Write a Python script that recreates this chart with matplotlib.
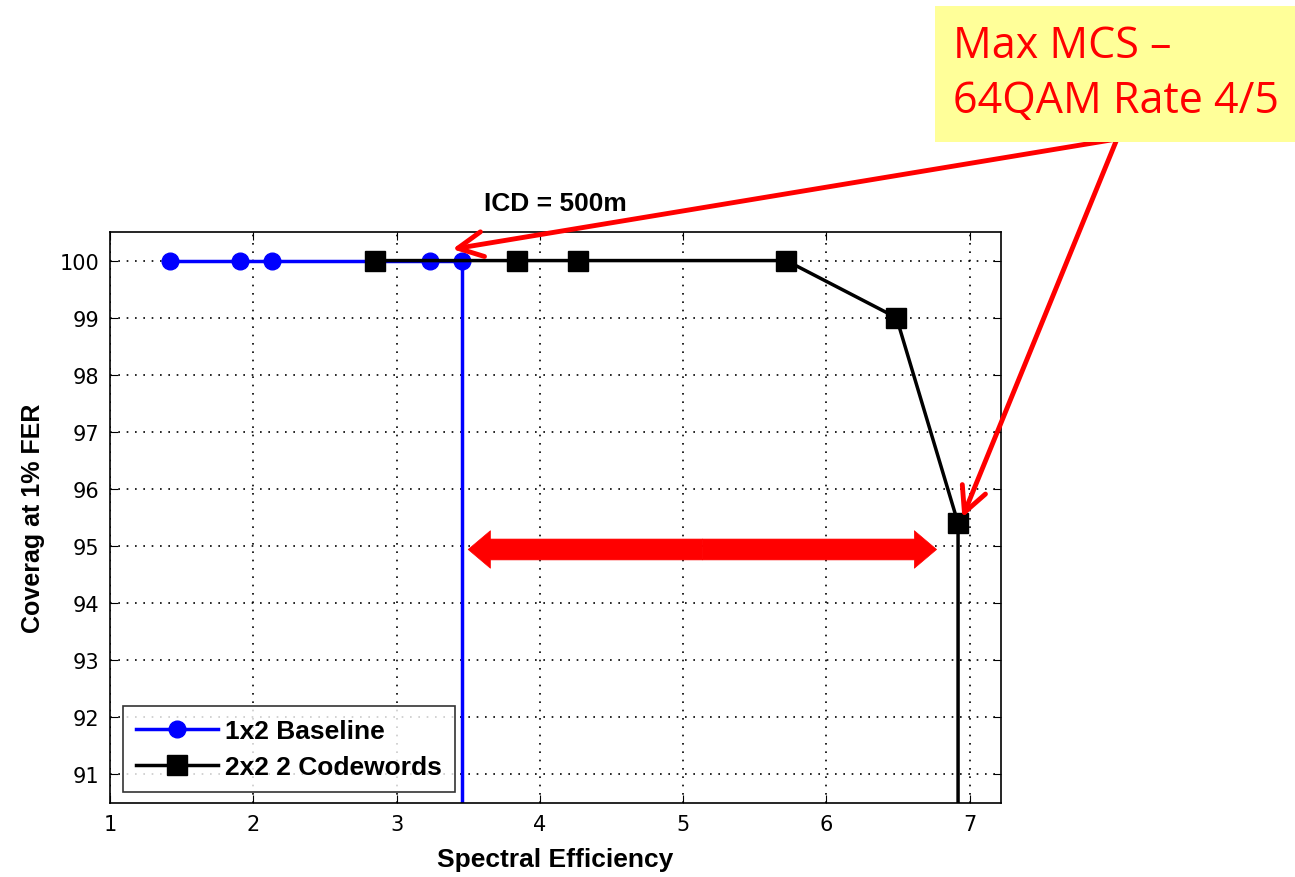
import numpy as np
import matplotlib
matplotlib.use("Agg")
import matplotlib.pyplot as plt
from matplotlib.patches import Rectangle

# data
base_x = [1.42, 1.91, 2.13, 3.23, 3.46, 3.46]
base_y = [100, 100, 100, 100, 100, 0]
cw_x = [2.85, 3.84, 4.27, 5.72, 6.49, 6.92, 6.92]
cw_y = [100, 100, 100, 100, 99.0, 95.4, 0]
xticks = [1, 2, 3, 4, 5, 6, 7]
yticks = [91, 92, 93, 94, 95, 96, 97, 98, 99, 100]

plt.rcParams['font.family'] = ['Liberation Sans', 'DejaVu Sans']

fig = plt.figure(figsize=(12.95, 8.78), dpi=100)
ax = fig.add_axes([0.085, 0.0843, 0.688, 0.6503])

ax.plot(base_x, base_y, '-o', color='blue', lw=2.5, ms=12, label='1x2 Baseline')
ax.plot(cw_x, cw_y, '-s', color='black', lw=2.5, ms=14, label='2x2 2 Codewords')

ax.set_xlim(1, 7.22)
ax.set_ylim(90.5, 100.5)
ax.set_xticks(xticks)
ax.set_yticks(yticks)
ax.tick_params(direction='in', top=True, right=True, labelsize=15, length=6, pad=8)
for lab in ax.get_xticklabels() + ax.get_yticklabels():
    lab.set_family('DejaVu Sans')
ax.grid(True, linestyle=(0, (1, 4)), color='black', lw=1.2)
for s in ax.spines.values():
    s.set_linewidth(1.2)

ax.set_xlabel('Spectral Efficiency', fontsize=19, fontweight='bold', labelpad=9)
ax.set_ylabel('Coverag at 1% FER', fontsize=18, fontweight='bold', labelpad=10)
ax.set_title('ICD = 500m', fontsize=19, fontweight='bold', pad=16)

leg = ax.legend(loc='lower left', fontsize=19, frameon=True, fancybox=False,
                edgecolor='black', handlelength=3.1, borderpad=0.5,
                labelspacing=0.45, handletextpad=0.25, borderaxespad=0,
                bbox_to_anchor=(0.0146, 0.019))
leg.get_frame().set_linewidth(1.2)
for t in leg.get_texts():
    t.set_fontweight('bold')

# callout box
fig.add_artist(Rectangle((935, 735), 360, 136, transform=None,
                         fc='#FFFF99', ec='none'))
fig.text(953, 831, 'Max MCS \u2013', transform=None,
         fontsize=31, color='red', family='Open Sans', va='center', ha='left')
fig.text(953, 776, '64QAM Rate 4/5', transform=None,
         fontsize=31, color='red', family='Open Sans', va='center', ha='left')

# thin arrows from callout
for tx, ty in [(3.39, 100.2), (6.95, 95.5)]:
    ax.annotate('', xy=(tx, ty), xytext=(1117, 738), textcoords='figure pixels',
                annotation_clip=False,
                arrowprops=dict(arrowstyle='->,head_length=0.9,head_width=0.45',
                                color='red', lw=3.5, mutation_scale=20,
                                shrinkA=0, shrinkB=0))

# thick double arrow, drawn as two halves from the middle
mid = (3.50 + 6.77) / 2
for end in (3.50, 6.77):
    ax.annotate('', xy=(end, 94.94), xytext=(mid, 94.94),
                arrowprops=dict(arrowstyle='simple,head_length=0.8,head_width=1.35,tail_width=0.75',
                                fc='red', ec='red', lw=0.5, mutation_scale=20,
                                shrinkA=0, shrinkB=0))

fig.savefig('out.png', dpi=100)
